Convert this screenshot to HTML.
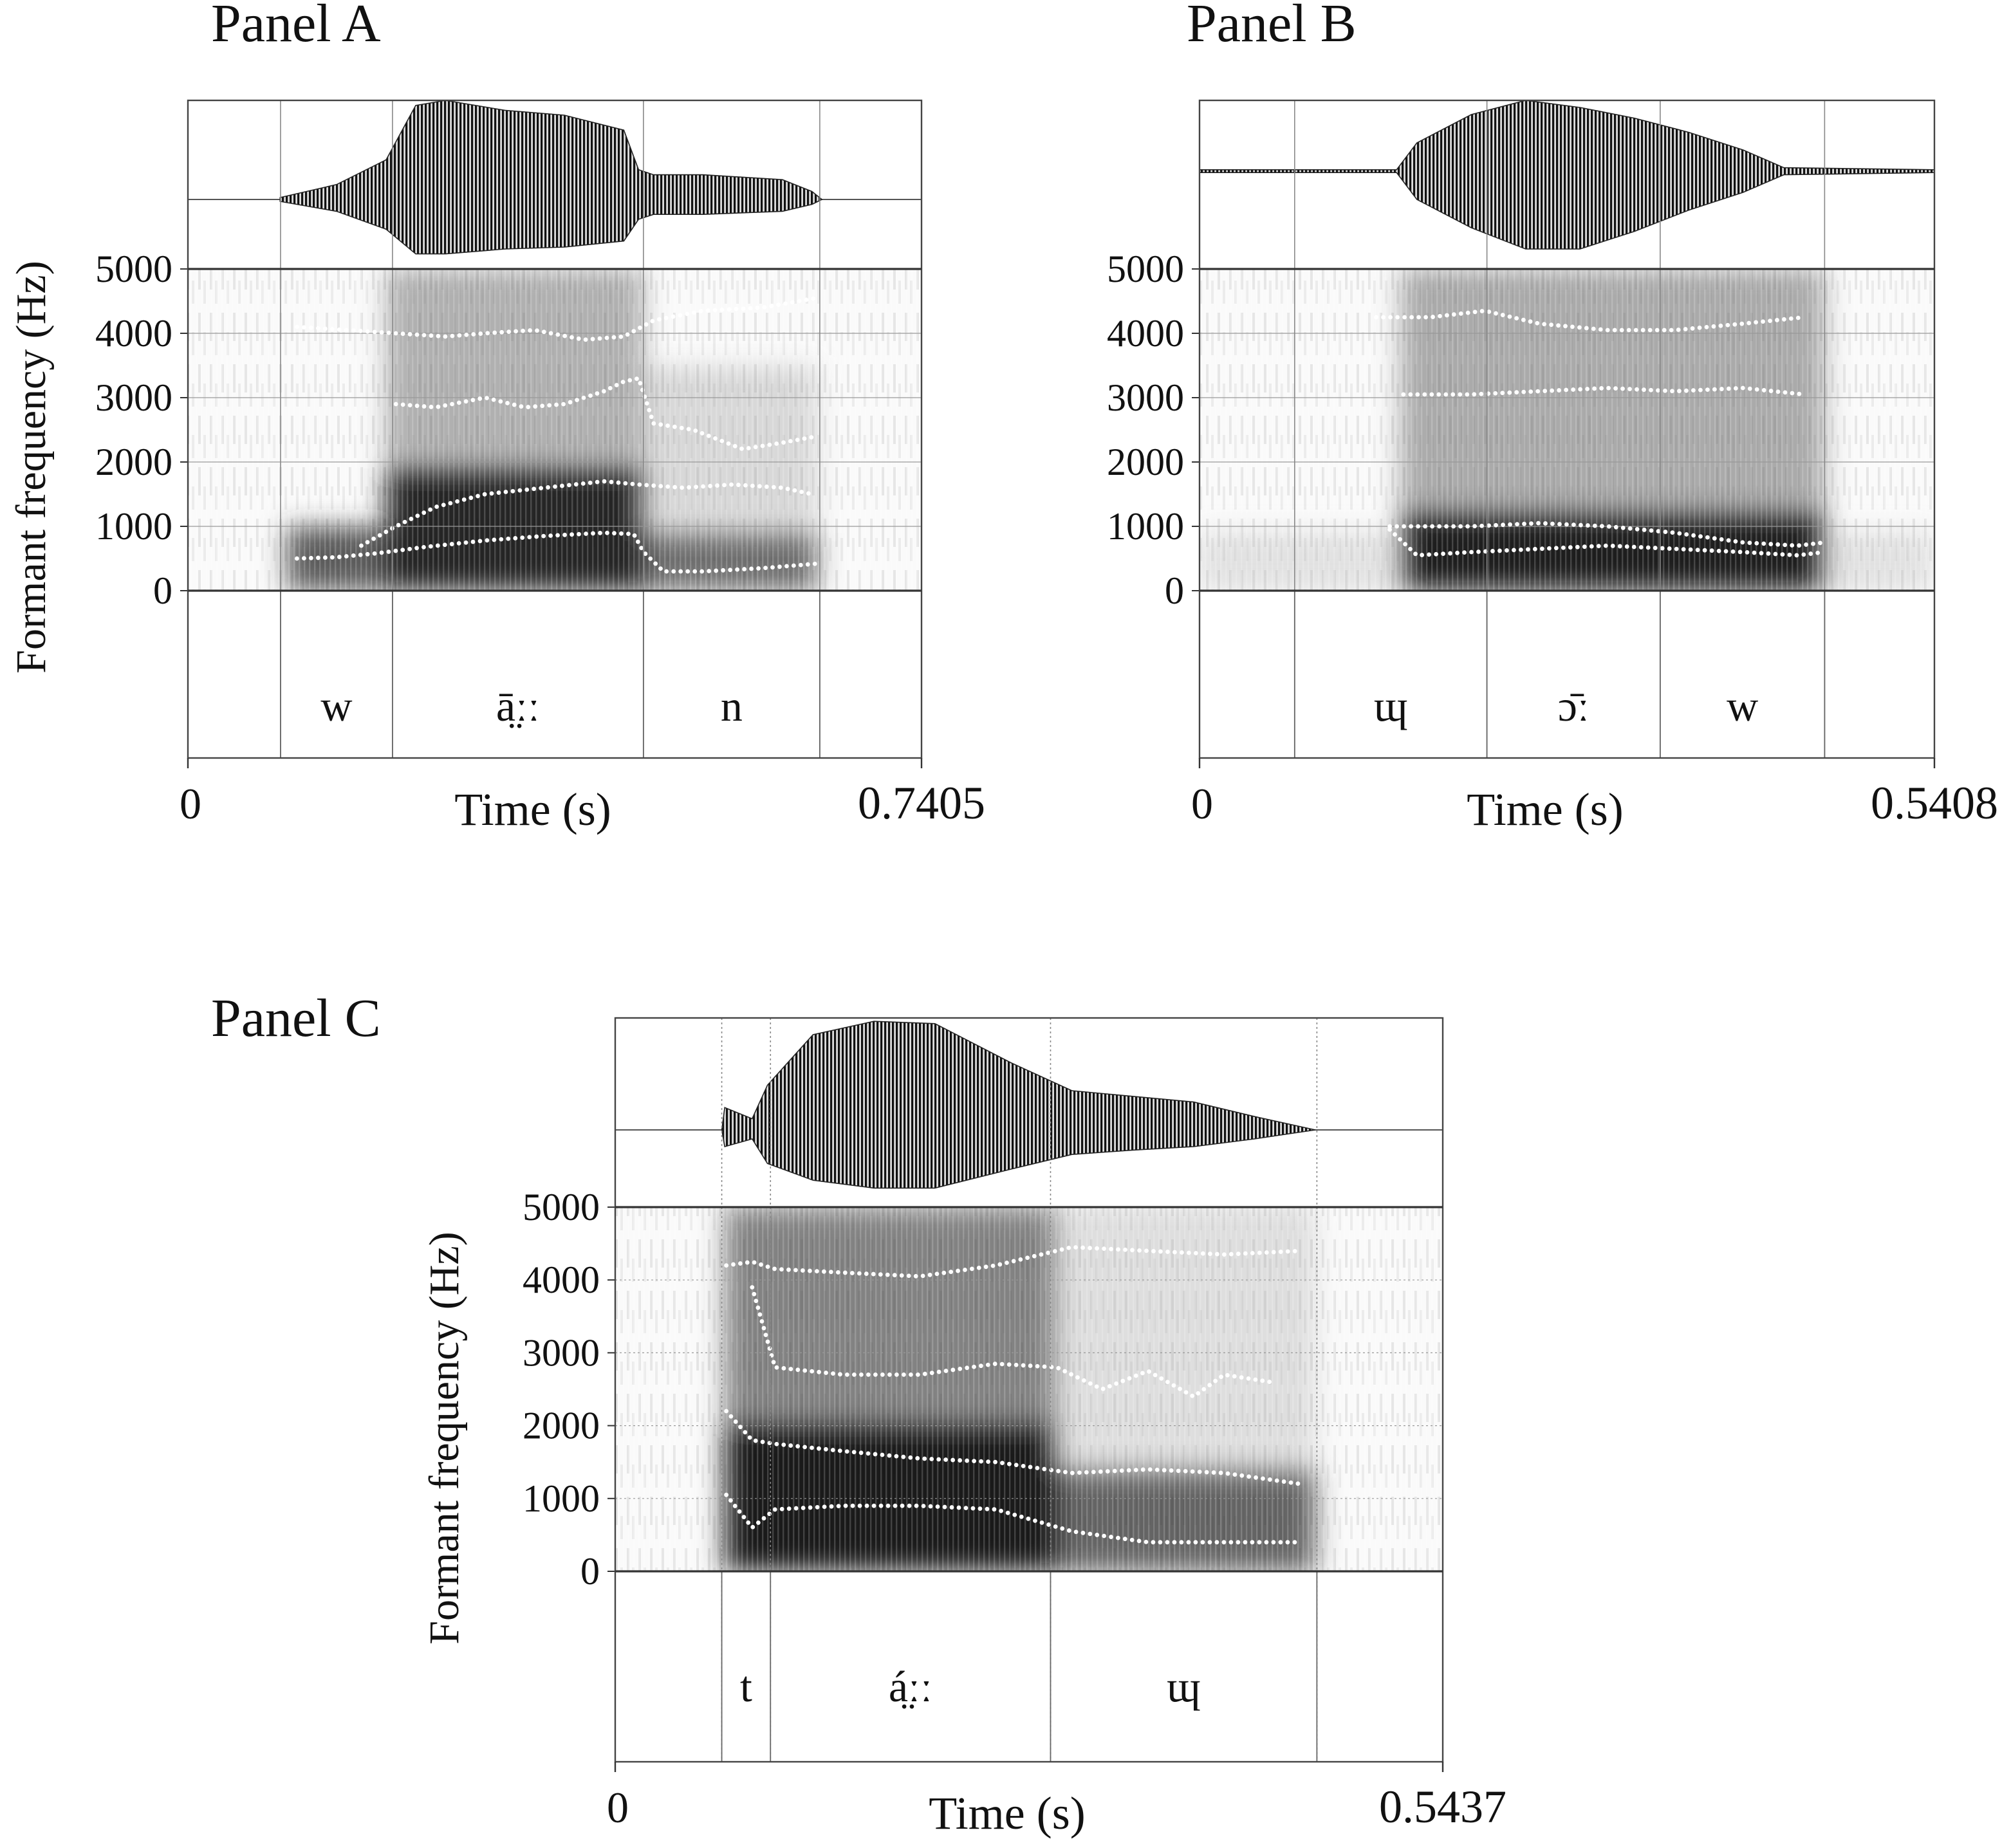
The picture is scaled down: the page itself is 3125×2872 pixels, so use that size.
<!DOCTYPE html>
<html><head><meta charset="utf-8">
<style>
html,body{margin:0;padding:0;background:#fff;}
svg{display:block;}
text{font-family:"Liberation Serif",serif;fill:#111;}
</style></head>
<body>
<svg id="fig" width="3125" height="2872" viewBox="0 0 1562.5 1436" xmlns="http://www.w3.org/2000/svg">
<defs>
<pattern id="hatch" width="3" height="10" patternUnits="userSpaceOnUse">
<rect width="3" height="10" fill="#ddd"/><rect width="1.6" height="10" fill="#111"/>
</pattern>
<filter id="blur" x="-20%" y="-20%" width="140%" height="140%"><feGaussianBlur stdDeviation="10"/></filter>
<pattern id="stripes" width="4" height="10" patternUnits="userSpaceOnUse">
<rect width="4" height="10" fill="rgba(255,255,255,0)"/><rect width="1.2" height="10" fill="rgba(255,255,255,0.18)"/>
</pattern>
<pattern id="noise" width="9" height="40" patternUnits="userSpaceOnUse">
<rect width="9" height="40" fill="#fafafa"/><rect x="1" y="3" width="2" height="22" fill="#e6e6e6"/><rect x="5" y="18" width="2" height="18" fill="#ececec"/>
</pattern>
</defs>
<g id="root"></g>
</svg>
<script>
// ---------- Panel A data ----------
const aDur = 0.7405;
const aBounds = [0.0935, 0.2065, 0.4598, 0.6378];
const aLabels = ["w", "ā̤ːː", "n"];
const aF1t = [0.110,0.150,0.190,0.240,0.300,0.360,0.420,0.450,0.460,0.480,0.520,0.580,0.635];
const aF1v = [500,520,580,680,780,850,900,880,600,300,300,350,420];
const aF2t = [0.175,0.210,0.250,0.300,0.360,0.420,0.455,0.500,0.550,0.600,0.630];
const aF2v = [700,1000,1300,1500,1600,1700,1650,1600,1650,1600,1500];
const aF3t = [0.210,0.250,0.300,0.340,0.380,0.420,0.440,0.455,0.470,0.510,0.560,0.600,0.635];
const aF3v = [2900,2850,3000,2850,2900,3100,3250,3300,2600,2500,2200,2300,2400];
const aF4t = [0.110,0.160,0.210,0.260,0.300,0.350,0.400,0.440,0.470,0.520,0.580,0.635];
const aF4v = [4100,4050,4000,3950,4000,4050,3900,3950,4200,4350,4400,4550];
const aEnvT = [0.093,0.150,0.200,0.230,0.260,0.320,0.380,0.440,0.455,0.470,0.520,0.600,0.630,0.640];
const aEnvUp = [0.02,0.15,0.40,0.95,1.00,0.90,0.85,0.70,0.30,0.25,0.25,0.20,0.08,0.0];
const aEnvDn = [0.02,0.12,0.30,0.55,0.55,0.50,0.48,0.42,0.20,0.15,0.15,0.12,0.05,0.0];
// ---------- Panel B data ----------
const bDur = 0.5408;
const bBounds = [0.0700, 0.2115, 0.3390, 0.4600];
const bLabels = ["ɰ", "ɔ̄ː", "w"];
const bF1t = [0.140,0.160,0.200,0.250,0.300,0.350,0.400,0.440,0.460];
const bF1v = [950,550,600,650,700,650,600,550,600];
const bF2t = [0.140,0.160,0.200,0.250,0.300,0.350,0.400,0.440,0.460];
const bF2v = [1000,1000,1000,1050,1000,900,750,700,750];
const bF3t = [0.150,0.200,0.250,0.300,0.350,0.400,0.445];
const bF3v = [3050,3050,3100,3150,3100,3150,3050];
const bF4t = [0.130,0.170,0.210,0.250,0.300,0.350,0.400,0.445];
const bF4v = [4250,4250,4350,4150,4050,4050,4150,4250];
const bEnvT = [0.000,0.145,0.160,0.200,0.240,0.280,0.320,0.360,0.400,0.430,0.5408];
const bEnvUp = [0.02,0.02,0.40,0.80,1.00,0.90,0.75,0.55,0.30,0.05,0.02];
const bEnvDn = [0.02,0.02,0.40,0.80,1.10,1.10,0.85,0.55,0.30,0.05,0.02];
// ---------- Panel C data ----------
const cDur = 0.5437;
const cBounds = [0.0700, 0.1020, 0.2860, 0.4610];
const cLabels = ["t", "á̤ːː", "ɰ"];
const cF1t = [0.073,0.090,0.105,0.150,0.200,0.250,0.300,0.350,0.400,0.450];
const cF1v = [1050,600,850,900,900,850,550,400,400,400];
const cF2t = [0.073,0.090,0.105,0.150,0.200,0.250,0.300,0.350,0.400,0.450];
const cF2v = [2200,1800,1750,1650,1550,1500,1350,1400,1350,1200];
const cF3t = [0.090,0.105,0.150,0.200,0.250,0.290,0.320,0.350,0.380,0.400,0.430];
const cF3v = [3900,2800,2700,2700,2850,2800,2500,2750,2400,2700,2600];
const cF4t = [0.073,0.090,0.105,0.150,0.200,0.250,0.300,0.350,0.400,0.450];
const cF4v = [4200,4250,4150,4100,4050,4200,4450,4400,4350,4400];
const cEnvT = [0.070,0.072,0.090,0.100,0.130,0.170,0.210,0.260,0.300,0.340,0.380,0.420,0.460];
const cEnvUp = [0.0,0.20,0.10,0.40,0.85,0.97,0.95,0.60,0.35,0.30,0.25,0.12,0.0];
const cEnvDn = [0.0,0.15,0.08,0.30,0.45,0.52,0.52,0.35,0.22,0.18,0.15,0.08,0.0];
const yTicks = [0,1000,2000,3000,4000,5000];

const NS="http://www.w3.org/2000/svg";
const root=document.getElementById('root');
function el(tag,attrs,parent,txt){const e=document.createElementNS(NS,tag);for(const k in attrs)e.setAttribute(k,attrs[k]);if(txt!==undefined)e.textContent=txt;(parent||root).appendChild(e);return e;}

function panel(o){
  const g=el('g',{});
  
  
  const xs=t=>o.x0+(t/o.dur)*(o.x1-o.x0);
  const ys=f=>o.sBot-(f/5000)*(o.sBot-o.sTop);
  const clipId='clip-'+o.name;
  const cp=el('clipPath',{id:clipId},g);
  el('rect',{x:o.x0,y:o.sTop,width:o.x1-o.x0,height:o.sBot-o.sTop},cp);
  const bg=el('rect',{x:o.x0,y:o.sTop,width:o.x1-o.x0,height:o.sBot-o.sTop,fill:'url(#noise)'},g);
  
  
  const cg=el('g',{'clip-path':`url(#${clipId})`},g);
  const sg=el('g',{filter:'url(#blur)'},cg);
  o.regions.forEach(r=>{
    const rr=el('rect',{x:xs(r[0]),y:ys(r[3]),width:xs(r[1])-xs(r[0]),height:ys(r[2])-ys(r[3]),fill:r[4],opacity:r[5]},sg);
    
    
  });
  el('rect',{x:o.x0,y:o.sTop,width:o.x1-o.x0,height:o.sBot-o.sTop,fill:'url(#stripes)'},g);
  yTicks.forEach(v=>{
    const gl=el('line',{x1:o.x0,x2:o.x1,y1:ys(v),y2:ys(v),stroke:'#999','stroke-width':0.6,'stroke-dasharray':o.dotted?'1.5 2':''},g);
    
    
    const tl=el('text',{x:o.x0-12,y:ys(v)+10,'font-size':30,'text-anchor':'end'},g,String(v));
    
    
    el('line',{x1:o.x0-6,x2:o.x0,y1:ys(v),y2:ys(v),stroke:'#333','stroke-width':1},g);
  });
  o.tracks.forEach((tr,i)=>{
    const pts=tr[0].map((t,j)=>xs(t).toFixed(1)+','+ys(tr[1][j]).toFixed(1)).join(' ');
    const pl=el('polyline',{points:pts,fill:'none',stroke:'#fff','stroke-width':3.4,'stroke-linecap':'round','stroke-dasharray':'0 5.5'},g);
    
    
  });
  const up=o.env[0].map((t,j)=>xs(t).toFixed(1)+','+(o.base-o.env[1][j]*o.amp).toFixed(1));
  const dn=o.env[0].map((t,j)=>xs(t).toFixed(1)+','+(o.base+o.env[2][j]*o.amp).toFixed(1)).reverse();
  el('line',{x1:o.x0,x2:o.x1,y1:o.base,y2:o.base,stroke:'#555','stroke-width':1},g);
  const wf=el('polygon',{points:up.concat(dn).join(' '),fill:'url(#hatch)',stroke:'#222','stroke-width':0.8},g);
  
  
  o.bounds.forEach(b=>{
    const bl=el('line',{x1:xs(b),x2:xs(b),y1:o.wTop,y2:o.tBot,stroke:'#888','stroke-width':0.8,'stroke-dasharray':o.dotted?'1.5 2':''},g);
    
    
    el('line',{x1:xs(b),x2:xs(b),y1:o.sBot,y2:o.tBot,stroke:'#666','stroke-width':0.9},g);
  });
  o.labels.forEach((l,i)=>{
    const cx=(xs(o.bounds[i])+xs(o.bounds[i+1]))/2;
    const t=el('text',{x:cx,y:o.sBot+101,'font-size':34,'text-anchor':'middle'},g,l);
    
    
  });
  el('rect',{x:o.x0,y:o.wTop,width:o.x1-o.x0,height:o.tBot-o.wTop,fill:'none',stroke:'#444','stroke-width':1.2},g);
  el('line',{x1:o.x0,x2:o.x1,y1:o.sTop,y2:o.sTop,stroke:'#333','stroke-width':1.6},g);
  el('line',{x1:o.x0,x2:o.x1,y1:o.sBot,y2:o.sBot,stroke:'#333','stroke-width':1.6},g);
  el('line',{x1:o.x0,x2:o.x0,y1:o.tBot,y2:o.tBot+8,stroke:'#333','stroke-width':1.2},g);
  el('line',{x1:o.x1,x2:o.x1,y1:o.tBot,y2:o.tBot+8,stroke:'#333','stroke-width':1.2},g);
  const z=el('text',{x:o.x0+2,y:o.tBot+47,'font-size':34,'text-anchor':'middle'},g,'0');
  
  const e=el('text',{x:o.x1,y:o.tBot+47,'font-size':36,'text-anchor':'middle'},g,o.dur.toFixed(4));
  
  const xt=el('text',{x:(o.x0+o.x1)/2-17,y:o.tBot+52,'font-size':36,'text-anchor':'middle'},g,'Time (s)');
  
  const pt=el('text',{x:o.titleX,y:o.titleY,'font-size':42},g,o.title);
  
  if(o.yTitleX){
    const yt=el('text',{x:0,y:0,'font-size':33,'text-anchor':'middle',transform:`translate(${o.yTitleX},${(o.sTop+o.tBot)/2-36}) rotate(-90)`},g,'Formant frequency (Hz)');
    
  }
}

panel({name:'panel-a',title:'Panel A',titleX:164,titleY:32,x0:146,x1:716,wTop:78,sTop:209,sBot:459,tBot:589,base:155,amp:77,dur:aDur,
  bounds:aBounds,labels:aLabels,yTitleX:35,dotted:false,
  tracks:[[aF1t,aF1v],[aF2t,aF2v],[aF3t,aF3v],[aF4t,aF4v]],env:[aEnvT,aEnvUp,aEnvDn],
  regions:[[0.10,0.20,0,1000,'#333',0.8],[0.20,0.46,0,1900,'#111',0.9],[0.20,0.46,1900,5000,'#666',0.5],[0.46,0.635,0,900,'#333',0.7],[0.46,0.635,900,3500,'#999',0.35]]});
panel({name:'panel-b',title:'Panel B',titleX:922,titleY:32,x0:932,x1:1503,wTop:78,sTop:209,sBot:459,tBot:589,base:133,amp:55,dur:bDur,
  bounds:bBounds,labels:bLabels,yTitleX:null,dotted:false,
  tracks:[[bF1t,bF1v],[bF2t,bF2v],[bF3t,bF3v],[bF4t,bF4v]],env:[bEnvT,bEnvUp,bEnvDn],
  regions:[[0.0,0.54,0,900,'#bbb',0.4],[0.148,0.46,0,1200,'#111',0.95],[0.148,0.46,1200,5000,'#666',0.55]]});
panel({name:'panel-c',title:'Panel C',titleX:164,titleY:805,x0:478,x1:1121,wTop:791,sTop:938,sBot:1221,tBot:1369,base:878,amp:87,dur:cDur,
  bounds:cBounds,labels:cLabels,yTitleX:356,dotted:true,
  tracks:[[cF1t,cF1v],[cF2t,cF2v],[cF3t,cF3v],[cF4t,cF4v]],env:[cEnvT,cEnvUp,cEnvDn],
  regions:[[0.072,0.29,0,2000,'#111',0.95],[0.072,0.29,2000,5000,'#444',0.65],[0.29,0.46,0,1400,'#333',0.75],[0.29,0.46,1400,5000,'#aaa',0.35]]});
</script>
</body></html>
